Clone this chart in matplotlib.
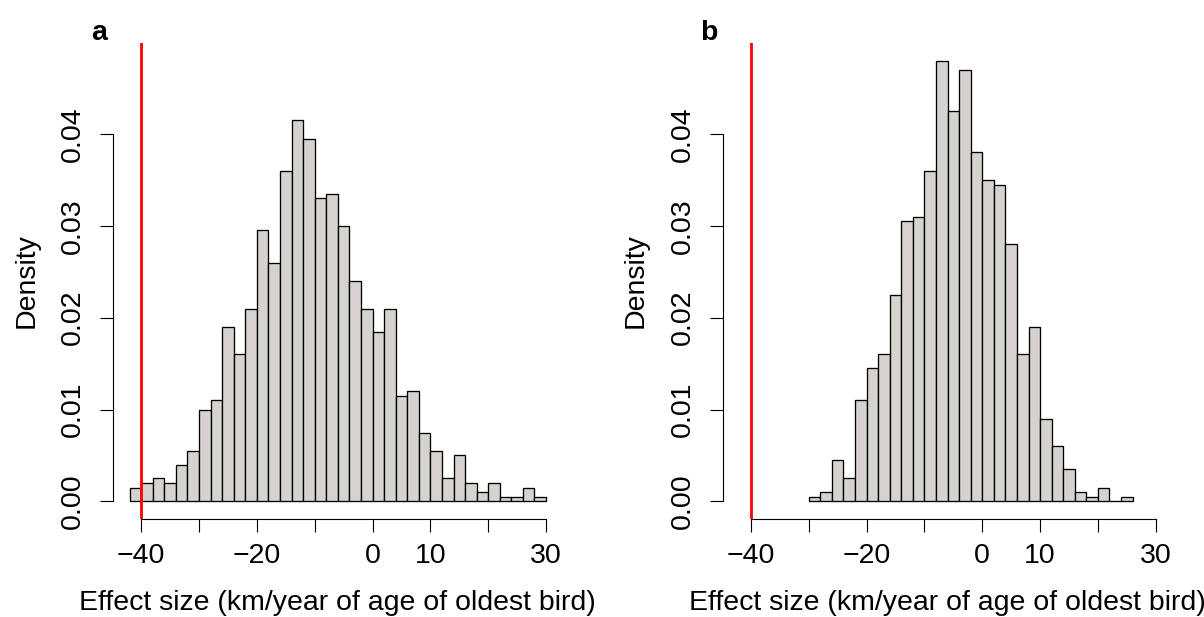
import numpy as np
from matplotlib import pyplot as plt

plt.rcParams['font.family'] = ['Liberation Sans', 'DejaVu Sans']

# bin edges (width 2) and densities
edgesA = np.arange(-42, 31, 2)
densityA = [0.0015, 0.0020, 0.0025, 0.0020, 0.0040, 0.0055, 0.0100, 0.0110, 0.0190,
            0.0160, 0.0210, 0.0295, 0.0260, 0.0360, 0.0415, 0.0395, 0.0330, 0.0335,
            0.0300, 0.0240, 0.0210, 0.0185, 0.0210, 0.0115, 0.0120, 0.0075, 0.0055,
            0.0025, 0.0050, 0.0020, 0.0010, 0.0020, 0.0005, 0.0005, 0.0015, 0.0005]

edgesB = np.arange(-30, 27, 2)
densityB = [0.0005, 0.0010, 0.0045, 0.0025, 0.0110, 0.0145, 0.0160, 0.0225, 0.0305,
            0.0310, 0.0360, 0.0480, 0.0425, 0.0470, 0.0380, 0.0350, 0.0345, 0.0280,
            0.0160, 0.0190, 0.0090, 0.0060, 0.0035, 0.0010, 0.0005, 0.0015, 0.0000,
            0.0005]

refLine = -40
xTicks = [-40, -30, -20, -10, 0, 10, 20, 30]
xTickLabels = ['\u221240', '', '\u221220', '', '0', '10', '', '30']
yTicks = [0.00, 0.01, 0.02, 0.03, 0.04]
yTickLabels = ['0.00', '0.01', '0.02', '0.03', '0.04']
xLabel = 'Effect size (km/year of age of oldest bird)'
yLabel = 'Density'
panels = ['a', 'b']

W, H = 1204, 617
fig = plt.figure(figsize=(W / 100, H / 100), dpi=100)
fs = 20.5


def drawPanel(ax, edges, density, label):
    centers = edges[:-1] + 1
    ax.hist(centers, bins=edges, weights=density, color='#d6d3ce',
            edgecolor='black', linewidth=0.95)
    ax.axvline(refLine, color='#ff0000', linewidth=2.0, zorder=5)
    # R style: 4% padding around xlim c(-42, 30), ylim c(0, 0.048)
    ax.set_xlim(-42 - 2.88, 30 + 2.88)
    ax.set_ylim(-0.048 * 0.04, 0.048 * 1.04)
    for side in ['top', 'right']:
        ax.spines[side].set_visible(False)
    ax.spines['left'].set_bounds(0, 0.04)
    ax.spines['bottom'].set_bounds(-40, 30)
    ax.spines['left'].set_linewidth(0.8)
    ax.spines['bottom'].set_linewidth(0.8)
    ax.set_xticks(xTicks)
    ax.set_xticklabels(xTickLabels)
    ax.set_yticks(yTicks)
    ax.set_yticklabels(yTickLabels, rotation=90, va='center')
    ax.tick_params(axis='both', direction='out', length=9.4, width=0.8, labelsize=fs)
    ax.tick_params(axis='x', pad=8)
    ax.tick_params(axis='y', pad=10)
    ax.set_xlabel(xLabel, fontsize=fs, labelpad=15)
    ax.set_ylabel(yLabel, fontsize=fs, labelpad=15)
    ax.text(-0.03, 1.021, label, transform=ax.transAxes, fontsize=fs,
            fontweight='bold', ha='center', va='center')


axW = 449.7 / W
axB = (H - 519) / H
axH = 476 / H
axA = fig.add_axes([113 / W, axB, axW, axH])
axBpanel = fig.add_axes([722.7 / W, axB, axW, axH])

drawPanel(axA, edgesA, densityA, panels[0])
drawPanel(axBpanel, edgesB, densityB, panels[1])

fig.savefig('out.png', dpi=100)
